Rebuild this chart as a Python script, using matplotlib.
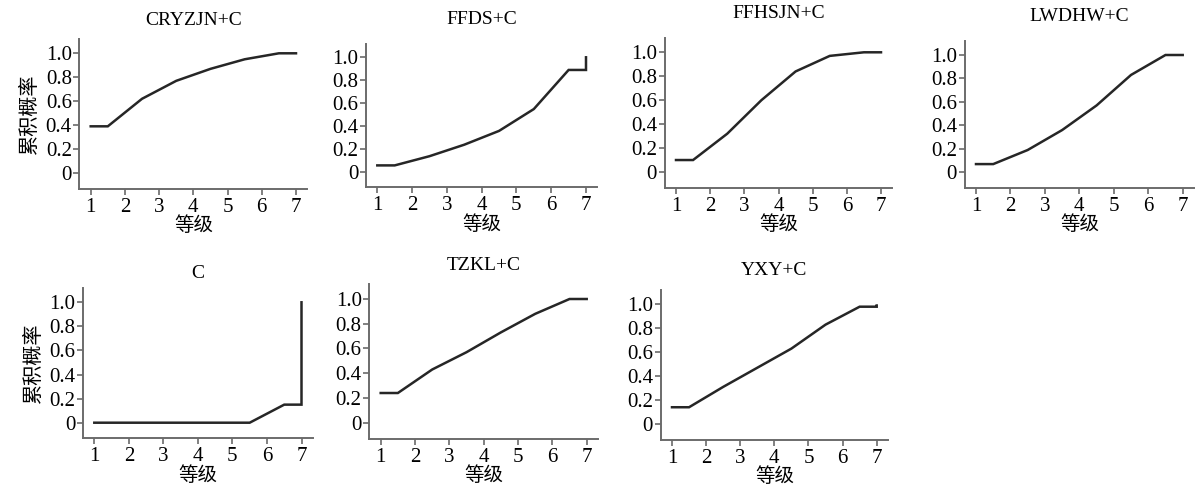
import numpy as np
import matplotlib
matplotlib.use("Agg")
import matplotlib.pyplot as plt

# ---- data: cumulative probability at each level (1..7) ----
levels = [1, 2, 3, 4, 5, 6, 7]
titles = ["CRYZJN+C", "FFDS+C", "FFHSJN+C", "LWDHW+C", "C", "TZKL+C", "YXY+C"]
cryzjn = [0.39, 0.62, 0.77, 0.87, 0.95, 1.00, 1.00]
ffds   = [0.06, 0.14, 0.24, 0.36, 0.55, 0.89, 1.00]
ffhsjn = [0.10, 0.32, 0.60, 0.84, 0.97, 1.00, 1.00]
lwdhw  = [0.07, 0.19, 0.36, 0.57, 0.83, 1.00, 1.00]
c_only = [0.00, 0.00, 0.00, 0.00, 0.00, 0.15, 1.00]
tzkl   = [0.24, 0.43, 0.57, 0.73, 0.88, 1.00, 1.00]
yxy    = [0.14, 0.31, 0.47, 0.63, 0.83, 0.98, 0.99]
series = [cryzjn, ffds, ffhsjn, lwdhw, c_only, tzkl, yxy]
y_ticks = [0, 0.2, 0.4, 0.6, 0.8, 1.0]
y_ticklabels = ["0", "0.2", "0.4", "0.6", "0.8", "1.0"]
xlabel = "等级"
ylabel = "累积概率"

W, H = 1197, 492
fig = plt.figure(figsize=(W / 100, H / 100), dpi=100)

XL = (0.67, 7.33)
YL = (-0.13, 1.12)

# pixel anchors (x=1, x=7, y=1.0, y=0) for each panel
anchors = [
    (90.7, 296.0, 53.3, 173.0),
    (377.3, 586.0, 57.3, 172.3),
    (676.0, 881.0, 52.3, 172.0),
    (976.0, 1182.7, 55.0, 172.3),
    (94.3, 301.5, 302.3, 422.7),
    (380.7, 586.7, 299.0, 422.7),
    (672.0, 876.7, 304.3, 424.0),
]
title_pads = [10, 14, 14, 14, 7, 10, 11]

serif = ["Liberation Serif", "DejaVu Serif"]
cjk = ["Noto Sans CJK SC", "DejaVu Sans"]
spine_col = "#6b6b6b"
line_col = "#262626"

for i, (vals, ttl) in enumerate(zip(series, titles)):
    p1, p7, q1, q0 = anchors[i]
    ux = (p7 - p1) / 6.0
    uy = (q0 - q1) / 1.0
    left = p1 - (1 - XL[0]) * ux
    right = p7 + (XL[1] - 7) * ux
    top = q1 - (YL[1] - 1.0) * uy
    bottom = q0 - YL[0] * uy
    ax = fig.add_axes([left / W, 1 - bottom / H, (right - left) / W, (bottom - top) / H])

    lv = np.array(levels, dtype=float)
    v = np.array(vals, dtype=float)
    xs = np.concatenate([[lv[0]], lv[:-1] + 0.5, [lv[-1], lv[-1]]])
    ys = np.concatenate([[v[0]], v[:-1], [v[-2], v[-1]]])
    ax.plot(xs, ys, color=line_col, lw=1.8, solid_joinstyle="miter")

    ax.set_xlim(*XL)
    ax.set_ylim(*YL)
    ax.set_xticks(levels)
    ax.set_xticklabels([str(l) for l in levels], fontfamily=serif, fontsize=15)
    ax.set_yticks(y_ticks)
    ax.set_yticklabels(y_ticklabels, fontfamily=serif, fontsize=15)
    for s in ["top", "right"]:
        ax.spines[s].set_visible(False)
    for s in ["left", "bottom"]:
        ax.spines[s].set_color(spine_col)
        ax.spines[s].set_linewidth(1.4)
    ax.tick_params(axis="both", direction="out", length=4.5, width=1.2,
                   color=spine_col, labelcolor="black")
    ax.tick_params(axis="x", pad=2)
    ax.tick_params(axis="y", pad=1)
    ax.set_xlabel(xlabel, fontfamily=cjk, fontsize=14, labelpad=-1)
    if i in (0, 4):
        ax.set_ylabel(ylabel, fontfamily=cjk, fontsize=14.5, labelpad=4)
    ax.set_title(ttl, fontfamily=serif, fontsize=14, pad=title_pads[i])

fig.savefig("out.png", dpi=100)
